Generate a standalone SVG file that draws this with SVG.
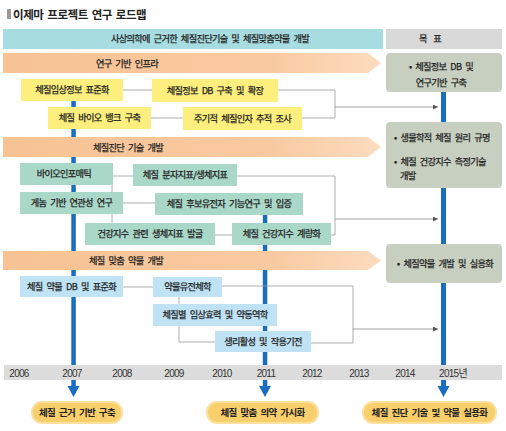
<svg xmlns="http://www.w3.org/2000/svg" width="506" height="431" viewBox="0 0 506 431">
<defs>
<style>
text{font-family:"Noto Sans CJK KR","Noto Sans",sans-serif;fill:#222;}
.t{font-size:9.2px;letter-spacing:-0.7px;word-spacing:2.6px;text-anchor:middle;stroke:#222;stroke-width:0.25px;}
.tl{font-size:9.2px;letter-spacing:-0.7px;word-spacing:2.6px;stroke:#222;stroke-width:0.25px;}
.band{fill:url(#bandGrad);}
.yel{fill:#fdef7d;}
.grn{fill:#a9d8c9;}
.blu{fill:#bfe3f5;}
.goal{fill:#c7d0c0;}
.pill{fill:#f9cf6c;stroke:#fbe0a0;stroke-width:2;}
.pt{font-size:9.5px;font-weight:bold;letter-spacing:-0.7px;word-spacing:2.4px;text-anchor:middle;}
.yr{font-family:"Liberation Sans","Noto Sans CJK KR",sans-serif;font-size:10px;letter-spacing:-0.7px;text-anchor:middle;fill:#333;}
.bar{fill:#1a6ec2;}
.ln{fill:none;stroke:#9a9a9a;stroke-width:0.8;}
.ar{fill:none;stroke:#8a8a8a;stroke-width:0.8;marker-end:url(#ah);}
</style>
<linearGradient id="bandGrad" x1="0" y1="0" x2="1" y2="0">
<stop offset="0" stop-color="#f7c394"/>
<stop offset="0.7" stop-color="#f9c9a0"/>
<stop offset="1" stop-color="#fcdcbf"/>
</linearGradient>
<marker id="ah" viewBox="0 0 6 6" refX="6" refY="3" markerWidth="5" markerHeight="5" orient="auto" markerUnits="userSpaceOnUse">
<path d="M0,0 L6,3 L0,6 Z" fill="#555"/>
</marker>
</defs>
<rect width="506" height="431" fill="#fff"/>

<g id="title">
<rect x="7" y="9" width="4" height="10" fill="#9a9a9a"/>
<text x="13" y="19" style="font-size:11.5px;font-weight:bold;letter-spacing:-0.4px;word-spacing:1.5px;">이제마 프로젝트 연구 로드맵</text>
</g>

<g id="header">
<rect x="3" y="29" width="380" height="20" fill="#a7dce1"/>
<text class="t" x="210" y="42">사상의학에 근거한 체질진단기술 및 체질맞춤약물 개발</text>
<rect x="386" y="29" width="116" height="20" fill="#d9d9d9"/>
<text class="t" x="430" y="42" style="word-spacing:5px">목 표</text>
</g>

<g id="timeline-2007">
<rect class="bar" x="71.3" y="100" width="4.5" height="287"/>
<polygon class="bar" points="67.5,386 79.5,386 73.5,397"/>
</g>
<g id="timeline-2011">
<rect class="bar" x="262.8" y="213" width="4.5" height="174"/>
<polygon class="bar" points="259,386 271,386 265,397"/>
</g>
<g id="timeline-2015">
<rect class="bar" x="441" y="90" width="5" height="297"/>
<polygon class="bar" points="437.5,386 449.5,386 443.5,397"/>
</g>

<g id="years">
<rect x="4" y="365" width="498" height="15" fill="#dcdcdc"/>
<text class="yr" x="19" y="377">2006</text>
<text class="yr" x="72" y="377">2007</text>
<text class="yr" x="122" y="377">2008</text>
<text class="yr" x="174" y="377">2009</text>
<text class="yr" x="222" y="377">2010</text>
<text class="yr" x="266" y="377">2011</text>
<text class="yr" x="312" y="377">2012</text>
<text class="yr" x="359" y="377">2013</text>
<text class="yr" x="405" y="377">2014</text>
<text class="yr" x="453" y="377">2015년</text>
</g>

<g id="band-infra">
<polygon class="band" points="3,53 368,53 381,63 368,73 3,73"/>
<text class="t" x="127" y="66.5">연구 기반 인프라</text>
</g>
<g id="band-diag">
<polygon class="band" points="3,137 368,137 381,147 368,157 3,157"/>
<text class="t" x="128" y="150.5">체질진단 기술 개발</text>
</g>
<g id="band-drug">
<polygon class="band" points="3,251 368,251 381,260.5 368,270 3,270"/>
<text class="t" x="126" y="264">체질 맞춤 약물 개발</text>
</g>

<g id="connectors">
<path class="ln" d="M123,90 H152"/>
<path class="ln" d="M150,118 H183"/>
<path class="ln" d="M278,90 H335 V118 H302"/>
<path class="ar" d="M335,107 H438"/>
<path class="ln" d="M112,176 V223"/>
<path class="ln" d="M113,176 H133"/>
<path class="ln" d="M123,203 H155"/>
<path class="ln" d="M215,235 H232"/>
<path class="ln" d="M237,176 H335 V235 H331"/>
<path class="ar" d="M335,219 H438"/>
<path class="ln" d="M123,287 H153"/>
<path class="ln" d="M222,286 H353 V343 H311"/>
<path class="ln" d="M179,297 V342 H215"/>
<path class="ar" d="M353,329 H438"/>
</g>

<g id="n-clinical-std"><rect class="yel" x="21" y="79" width="102" height="22"/><text class="t" x="72" y="93.2">체질임상정보 표준화</text></g>
<g id="n-db-build"><rect class="yel" x="152" y="79" width="126" height="23"/><text class="t" x="215" y="93.7">체질정보 DB 구축 및 확장</text></g>
<g id="n-biobank"><rect class="yel" x="48" y="107" width="103" height="22"/><text class="t" x="99.5" y="121.2">체질 바이오 뱅크 구축</text></g>
<g id="n-periodic"><rect class="yel" x="183" y="107" width="119" height="23"/><text class="t" x="242.5" y="121.7">주기적 체질인자 추적 조사</text></g>

<g id="n-bioinfo"><rect class="grn" x="20" y="163" width="93" height="22"/><text class="t" x="64" y="177.2">바이오인포매틱</text></g>
<g id="n-marker"><rect class="grn" x="133" y="164" width="104" height="22"/><text class="t" x="185" y="178.2">체질 분자지표/생체지표</text></g>
<g id="n-genome"><rect class="grn" x="20" y="192" width="103" height="22"/><text class="t" x="71.5" y="206.2">게놈 기반 연관성 연구</text></g>
<g id="n-candidate"><rect class="grn" x="155" y="193" width="148" height="22"/><text class="t" x="229" y="207.2">체질 후보유전자 기능연구 및 입증</text></g>
<g id="n-health-marker"><rect class="grn" x="85" y="223" width="130" height="22"/><text class="t" x="150" y="237.2">건강지수 관련 생체지표 발굴</text></g>
<g id="n-health-quant"><rect class="grn" x="232" y="223" width="99" height="22"/><text class="t" x="281.5" y="237.2">체질 건강지수 계량화</text></g>

<g id="n-drug-db"><rect class="blu" x="20" y="276" width="103" height="21"/><text class="t" x="71.5" y="289.7">체질 약물 DB 및 표준화</text></g>
<g id="n-pharmaco"><rect class="blu" x="153" y="277" width="69" height="20"/><text class="t" x="187.5" y="290.2">약물유전체학</text></g>
<g id="n-clinical-eff"><rect class="blu" x="153" y="304" width="124" height="22"/><text class="t" x="215" y="318.2">체질별 임상효력 및 약동역학</text></g>
<g id="n-physio"><rect class="blu" x="215" y="331" width="96" height="21"/><text class="t" x="263" y="344.7">생리활성 및 작용기전</text></g>

<g id="goal-1"><rect class="goal" x="386" y="53" width="116" height="39" rx="4"/>
<text class="t" x="441" y="69.5">• 체질정보 DB 및</text>
<text class="t" x="441" y="85.5">연구기반 구축</text></g>
<g id="goal-2"><rect class="goal" x="386" y="122" width="116" height="66" rx="4"/>
<text class="tl" x="394" y="141">• 생물학적 체질 원리 규명</text>
<text class="tl" x="394" y="165">• 체질 건강지수 측정기술</text>
<text class="tl" x="400" y="179">개발</text></g>
<g id="goal-3"><rect class="goal" x="386" y="244" width="116" height="39" rx="4"/>
<text class="t" x="445" y="267">• 체질약물 개발 및 실용화</text></g>

<g id="p-2007"><rect class="pill" x="32" y="402" width="90" height="21" rx="10"/><text class="pt" x="77" y="416">체질 근거 기반 구축</text></g>
<g id="p-2011"><rect class="pill" x="207" y="402" width="111" height="21" rx="10"/><text class="pt" x="262.5" y="416">체질 맞춤 의약 가시화</text></g>
<g id="p-2015"><rect class="pill" x="363" y="402" width="133" height="21" rx="10"/><text class="pt" x="429.5" y="416">체질 진단 기술 및 약물 실용화</text></g>
</svg>
